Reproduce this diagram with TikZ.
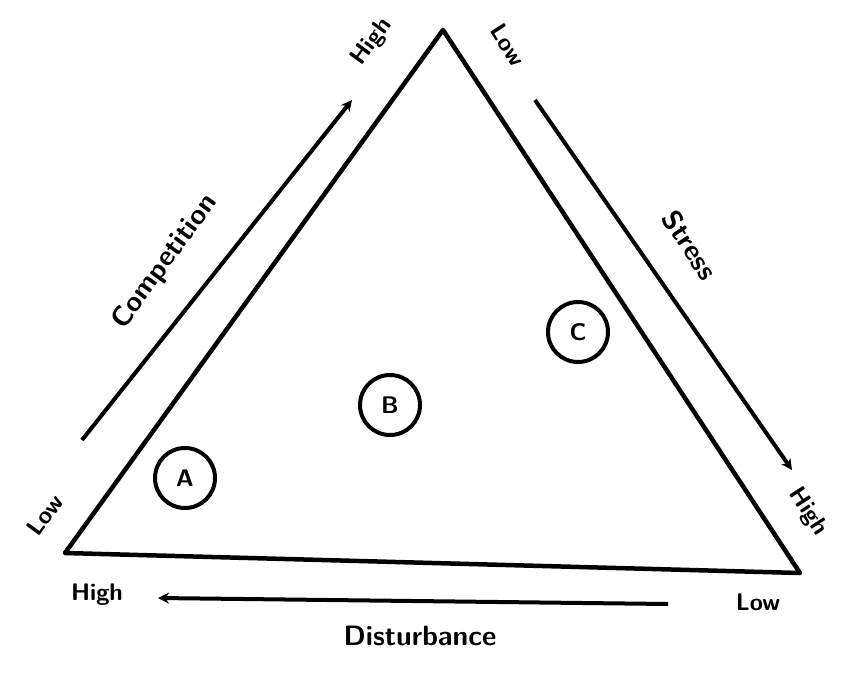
\documentclass[tikz,border=0pt]{standalone}
\usetikzlibrary{arrows.meta}
\tikzset{
  edge/.style={line width=4.5pt, line join=round},
  axis/.style={line width=4pt, -{Stealth[length=11pt,width=11pt]}},
  lbl/.style={font=\sffamily\bfseries\fontsize{24}{24}\selectfont, inner sep=1pt},
  biglbl/.style={font=\sffamily\bfseries\fontsize{28}{28}\selectfont, inner sep=2pt},
  zone/.style={circle, draw, line width=4pt, minimum size=60pt, inner sep=0pt, font=\sffamily\bfseries\fontsize{24}{24}\selectfont}
}
\begin{document}
\begin{tikzpicture}[x=1pt,y=-1pt]
\useasboundingbox (0,0) rectangle (842,674);
% triangle corners
\coordinate (T) at (443,30);
\coordinate (L) at (65,553);
\coordinate (R) at (800,573);
\draw[edge] (T) -- (L) -- (R) -- cycle;
% axis lines
\coordinate (la) at (82,440);
\coordinate (lb) at (352,100);
\coordinate (ra) at (535,100);
\coordinate (rb) at (792,470);
\coordinate (ba) at (668,604);
\coordinate (bb) at (158,598);
\draw[axis] (la) -- (lb);
\draw[axis] (ra) -- (rb);
\draw[axis] (ba) -- (bb);
% left side labels
\node[lbl, rotate=54] (lowL) at (45,515) {Low};
\node[biglbl, rotate=54] (comp) at (165,262) {Competition};
\node[lbl, rotate=54] (highL) at (372,42) {High};
% right side labels
\node[lbl, rotate=-57] (lowR) at (508,45) {Low};
\node[biglbl, rotate=-57] (stress) at (690,245) {Stress};
\node[lbl, rotate=-57] (highR) at (808,512) {High};
% bottom labels
\node[lbl] (highB) at (97,595) {High};
\node[lbl] (lowB) at (758,602) {Low};
\node[biglbl] (dist) at (420,636) {Disturbance};
% zones
\node[zone] (A) at (185,478) {A};
\node[zone] (B) at (390,405) {B};
\node[zone] (C) at (578,332) {C};
\end{tikzpicture}
\end{document}
